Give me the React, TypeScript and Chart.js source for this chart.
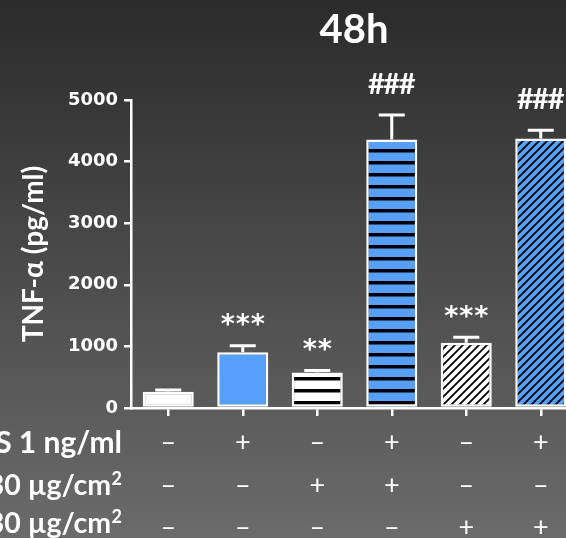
import React, { useEffect, useRef } from 'react';
import { Chart, registerables } from 'chart.js';
Chart.register(...registerables);

const groups = ['G1', 'G2', 'G3', 'G4', 'G5', 'G6'];
const tnfValues = [265, 905, 575, 4360, 1060, 4375];
const tnfErrors = [27, 105, 33, 395, 88, 135];
const significance = ['', '***', '**', '###', '***', '###'];
const rowLabels = ['LPS 1 ng/ml', '30 µg/cm²', '30 µg/cm²'];
const lpsRow = ['–', '+', '–', '+', '–', '+'];
const secondRow = ['–', '–', '+', '+', '–', '–'];
const thirdRow = ['–', '–', '–', '–', '+', '+'];
const yMin = 0;
const yMax = 5000;
const yStep = 1000;
const titleText = '48h';
const yTitle = 'TNF-α (pg/ml)';

const BLUE = '#56a0f9';

function hStripes(bg: string): CanvasPattern {
  const c = document.createElement('canvas');
  c.width = 8; c.height = 12;
  const x = c.getContext('2d')!;
  x.fillStyle = bg; x.fillRect(0, 0, 8, 12);
  x.fillStyle = '#000'; x.fillRect(0, 5, 8, 3.5);
  return x.createPattern(c, 'repeat')!;
}

function dStripes(bg: string): CanvasPattern {
  const s = 8;
  const c = document.createElement('canvas');
  c.width = s; c.height = s;
  const x = c.getContext('2d')!;
  x.fillStyle = bg; x.fillRect(0, 0, s, s);
  x.strokeStyle = '#000'; x.lineWidth = 1.8;
  x.beginPath();
  x.moveTo(-1, s + 1); x.lineTo(s + 1, -1);
  x.moveTo(-1, 1); x.lineTo(1, -1);
  x.moveTo(s - 1, s + 1); x.lineTo(s + 1, s - 1);
  x.stroke();
  return x.createPattern(c, 'repeat')!;
}

const deco = {
  id: 'deco',
  beforeDraw(chart: any) {
    const { ctx, width, height } = chart;
    const g = ctx.createLinearGradient(0, 0, 0, height);
    g.addColorStop(0, '#2b2b2b');
    g.addColorStop(1, '#6b6b6b');
    ctx.save();
    ctx.fillStyle = g;
    ctx.fillRect(0, 0, width, height);
    ctx.restore();
  },
  afterDatasetsDraw(chart: any) {
    const ctx = chart.ctx;
    const meta = chart.getDatasetMeta(0);
    const y = chart.scales.y;
    ctx.save();
    ctx.strokeStyle = '#fff';
    ctx.lineWidth = 3;
    meta.data.forEach((bar: any, i: number) => {
      const top = y.getPixelForValue(tnfValues[i]);
      const cap = y.getPixelForValue(tnfValues[i] + tnfErrors[i]);
      ctx.beginPath();
      ctx.moveTo(bar.x, top);
      ctx.lineTo(bar.x, cap);
      ctx.moveTo(bar.x - 13, cap);
      ctx.lineTo(bar.x + 13, cap);
      ctx.stroke();
      const label = significance[i];
      if (!label) return;
      ctx.fillStyle = '#fff';
      ctx.textAlign = 'center';
      ctx.textBaseline = 'alphabetic';
      const n = label.length;
      if (label[0] === '*') {
        ctx.font = 'bold 27px "DejaVu Sans"';
        const cy = cap - 27;
        for (let k = 0; k < n; k++) {
          ctx.fillText('*', bar.x + (k - (n - 1) / 2) * 15, cy + 14.5);
        }
      } else {
        ctx.font = 'bold 29px Lato';
        const cy = cap - 31;
        for (let k = 0; k < n; k++) {
          ctx.fillText('#', bar.x + (k - (n - 1) / 2) * 15.3, cy + 10);
        }
      }
    });
    ctx.restore();
  },
  afterDraw(chart: any) {
    const ctx = chart.ctx;
    const x = chart.scales.x;
    const area = chart.chartArea;
    ctx.save();
    ctx.fillStyle = '#fff';
    // title
    ctx.font = 'bold 40px Lato';
    ctx.textAlign = 'center';
    ctx.textBaseline = 'alphabetic';
    ctx.fillText(titleText, 354, 43);
    // y title
    ctx.save();
    ctx.translate(43, (area.top + area.bottom) / 2);
    ctx.rotate(-Math.PI / 2);
    ctx.font = 'bold 28px Lato';
    ctx.fillText(yTitle, 0, 0);
    ctx.restore();
    // table
    const rows = [lpsRow, secondRow, thirdRow];
    const labelBase = [453, 495, 533];
    const signBase = [451, 494, 536];
    ctx.textAlign = 'right';
    rowLabels.forEach((t, r) => {
      let right = 122;
      let main = t;
      let size = 30;
      if (t.endsWith('²')) {
        main = t.slice(0, -1);
        size = 28.5;
        ctx.font = 'bold 18px Lato';
        ctx.fillText('2', right, labelBase[r] - 10);
        right -= ctx.measureText('2').width + 0.5;
      }
      ctx.font = `bold ${size}px Lato`;
      ctx.fillText(main, right, labelBase[r]);
    });
    ctx.font = '27px Lato';
    ctx.textAlign = 'center';
    rows.forEach((row, r) => {
      row.forEach((s, i) => {
        ctx.fillText(s, x.getPixelForValue(i), signBase[r]);
      });
    });
    ctx.restore();
  },
};

export default function App() {
  const ref = useRef<HTMLCanvasElement>(null);
  useEffect(() => {
    const canvas = ref.current!;
    const fills = [
      '#ffffff',
      BLUE,
      hStripes('#ffffff'),
      hStripes(BLUE),
      dStripes('#ffffff'),
      dStripes(BLUE),
    ];
    const chart = new Chart(canvas, {
      type: 'bar',
      data: {
        labels: groups,
        datasets: [
          {
            data: tnfValues,
            backgroundColor: fills as any,
            borderColor: '#ffffff',
            borderWidth: 2.5,
            borderSkipped: false,
            barPercentage: 0.685,
            categoryPercentage: 1,
          },
        ],
      },
      options: {
        responsive: false,
        devicePixelRatio: 1,
        animation: false,
        layout: { padding: { top: 100, right: 12, left: 0, bottom: 0 } },
        plugins: { legend: { display: false }, tooltip: { enabled: false }, title: { display: false } },
        scales: {
          x: {
            type: 'category',
            offset: true,
            ticks: { display: false },
            grid: {
              display: true,
              offset: false,
              drawOnChartArea: false,
              drawTicks: true,
              tickLength: 8,
              color: '#ffffff',
              lineWidth: 2.5,
            },
            border: { display: true, color: '#ffffff', width: 2.5 },
            afterFit: (s: any) => { s.height = 130; },
          },
          y: {
            min: yMin,
            max: yMax,
            ticks: {
              stepSize: yStep,
              color: '#ffffff',
              font: { family: 'DejaVu Sans', weight: 'bold', size: 18 },
              padding: 6,
              callback: (v: any) => String(v),
            },
            grid: {
              display: true,
              drawOnChartArea: false,
              drawTicks: true,
              tickLength: 7,
              color: '#ffffff',
              lineWidth: 2.5,
            },
            border: { display: true, color: '#ffffff', width: 2.5 },
            afterFit: (s: any) => { s.width = 131; },
          },
        },
      },
      plugins: [deco],
    });
    return () => chart.destroy();
  }, []);
  return (
    <div style={{ position: 'absolute', left: 0, top: 0, width: 566, height: 538, overflow: 'hidden' }}>
      <canvas ref={ref} width={590} height={538} style={{ display: 'block', width: 590, height: 538 }} />
    </div>
  );
}
